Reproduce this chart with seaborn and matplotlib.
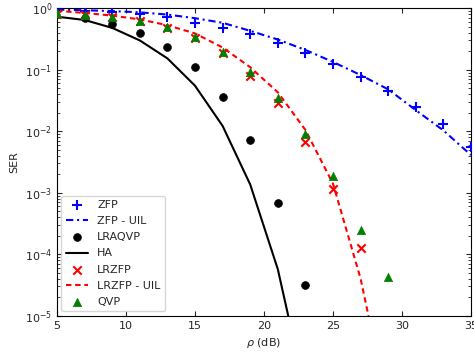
import numpy as np
import pandas as pd
import matplotlib
matplotlib.use("Agg")
import matplotlib.pyplot as plt
import seaborn as sns

# Valeurs (rho en dB, SER)
rho = [5, 7, 9, 11, 13, 15, 17, 19, 21, 23, 25, 27, 29, 31, 33, 35]

zfp = [0.93, 0.9, 0.86, 0.8, 0.72, 0.58, 0.47, 0.377, 0.268, 0.189, 0.123,
       0.0757, 0.046, 0.0245, 0.013, 0.0055]
zfp_uil = [0.95, 0.93, 0.9, 0.86, 0.79, 0.69, 0.58, 0.43, 0.31, 0.21, 0.134,
           0.082, 0.048, 0.022, 0.0103, 0.0041]

rho_lraqvp = [7, 9, 11, 13, 15, 17, 19, 21, 23]
lraqvp = [0.69, 0.55, 0.395, 0.236, 0.109, 0.0357, 0.0071, 6.8e-4, 3.2e-5]

rho_ha = [5, 7, 9, 11, 13, 15, 17, 19, 21, 23]
ha = [0.73, 0.645, 0.48, 0.30, 0.153, 0.055, 0.0122, 0.00136, 5.7e-5, 5.6e-7]

rho_lrzfp = [5, 7, 9, 11, 13, 15, 17, 19, 21, 23, 25, 27]
lrzfp = [0.82, 0.77, 0.72, 0.62, 0.48, 0.33, 0.185, 0.08, 0.029, 0.0066,
         0.00116, 1.24e-4]

rho_lrzfp_uil = [5, 7, 9, 11, 13, 15, 17, 19, 21, 23, 25, 27, 29]
lrzfp_uil = [0.91, 0.84, 0.76, 0.66, 0.53, 0.39, 0.23, 0.11, 0.043, 0.0105,
             0.0014, 4e-5, 3e-7]

rho_qvp = [5, 7, 9, 11, 13, 15, 17, 19, 21, 23, 25, 27, 29]
qvp = [0.83, 0.78, 0.73, 0.63, 0.49, 0.34, 0.196, 0.092, 0.035, 0.009,
       0.0019, 2.5e-4, 4.3e-5]

sns.set_style("ticks", {"xtick.direction": "in", "ytick.direction": "in"})
plt.rcParams["font.family"] = ["DejaVu Sans"]

fig, ax = plt.subplots(figsize=(4.74, 3.54), dpi=100)
fig.subplots_adjust(left=0.1203, right=0.9937, bottom=0.1082, top=0.9766)

sns.scatterplot(x=rho, y=zfp, ax=ax, marker="+", color="blue", s=42,
                linewidth=1.5, label="ZFP", zorder=3)
sns.lineplot(x=rho, y=zfp_uil, ax=ax, color="blue", linewidth=1.5,
             label="ZFP - UIL", dashes=False)
ax.lines[-1].set_dashes((3.5, 1.8, 1, 1.8))
sns.scatterplot(x=rho_lraqvp, y=lraqvp, ax=ax, marker="o", color="black",
                s=32, edgecolor="black", label="LRAQVP", zorder=3)
sns.lineplot(x=rho_ha, y=ha, ax=ax, color="black", linestyle="-",
             linewidth=1.5, label="HA")
sns.scatterplot(x=rho_lrzfp, y=lrzfp, ax=ax, marker="x", color="red", s=36,
                linewidth=1.5, label="LRZFP", zorder=3)
sns.lineplot(x=rho_lrzfp_uil, y=lrzfp_uil, ax=ax, color="red",
             linewidth=1.5, label="LRZFP - UIL")
ax.lines[-1].set_dashes((2.6, 1.8))
sns.scatterplot(x=rho_qvp, y=qvp, ax=ax, marker="^", color="green", s=36,
                edgecolor="green", label="QVP", zorder=4)

ax.set_yscale("log")
ax.set_xlim(5, 35)
ax.set_ylim(1e-5, 1)
ax.set_xticks([5, 10, 15, 20, 25, 30, 35])
ax.tick_params(which="both", direction="in", top=True, right=True,
               labelsize=8)
ax.set_xlabel(r"$\rho$ (dB)", fontsize=8)
ax.set_ylabel("SER", fontsize=8)
for s in ax.spines.values():
    s.set_linewidth(0.8)
    s.set_color("black")

ax.legend(loc="lower left", fontsize=8, scatterpoints=1,
          borderaxespad=0.4, labelspacing=0.55)

plt.savefig("out.png", dpi=100)
